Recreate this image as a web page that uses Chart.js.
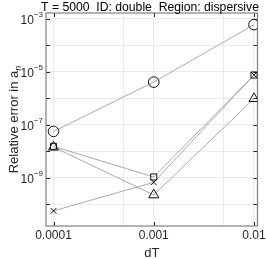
<!DOCTYPE html>
<html>
<head>
<meta charset="utf-8">
<script src="https://cdn.jsdelivr.net/npm/chart.js@4"></script>
<style>
  html, body { margin: 0; padding: 0; background: #fff; }
  #wrap { width: 266px; height: 259px; }
</style>
</head>
<body>
<div id="wrap"><canvas id="errChart"></canvas></div>
<script>
const dT = [1e-4, 1e-3, 1e-2];
const errCircle = [5.5e-8, 4.0e-6, 5.9e-4];
const errSquare = [1.5e-8, 1.05e-9, 7.4e-6];
const errCross = [5.5e-11, 6.6e-10, 7.4e-6];
const errTriangle = [1.4e-8, 2.2e-10, 9.5e-7];

const xTickLabels = ['0.0001', '0.001', '0.01'];
const xTickValues = [1e-4, 1e-3, 1e-2];
const xGridValues = [1e-4, 5e-4, 1e-3, 5e-3, 1e-2];
const yTickExps = [-3, -5, -7, -9];
const yGridExps = [-10, -9, -8, -7, -6, -5, -4, -3];

const titleText = 'T = 5000  ID: double  Region: dispersive';

function pts(ys) {
  return dT.map((x, i) => ({ x: x, y: ys[i] }));
}

function series(ys, style, r) {
  return {
    data: pts(ys),
    showLine: true,
    borderColor: '#a0a0a0',
    borderWidth: 0.9,
    pointStyle: style,
    pointRadius: r,
    pointBorderColor: '#111',
    pointBorderWidth: 1,
    pointBackgroundColor: 'rgba(0,0,0,0)',
    tension: 0
  };
}

// axis box, inward ticks, labels with superscripts
const decor = {
  id: 'decor',
  beforeDatasetsDraw(chart) {
    const { ctx, chartArea: a, scales } = chart;
    ctx.save();
    ctx.strokeStyle = '#262626';
    ctx.lineWidth = 1;
    // tick marks inward
    xTickValues.forEach(v => {
      const px = Math.round(scales.x.getPixelForValue(v)) + 0.5;
      ctx.beginPath();
      ctx.moveTo(px, a.bottom); ctx.lineTo(px, a.bottom - 4);
      ctx.moveTo(px, a.top); ctx.lineTo(px, a.top + 4);
      ctx.stroke();
    });
    yGridExps.forEach(e => {
      const py = Math.round(scales.y.getPixelForValue(Math.pow(10, e))) + 0.5;
      ctx.beginPath();
      ctx.moveTo(a.left, py); ctx.lineTo(a.left + 4, py);
      ctx.moveTo(a.right, py); ctx.lineTo(a.right - 4, py);
      ctx.stroke();
    });
    ctx.strokeStyle = '#808080';
    ctx.lineWidth = 1.2;
    ctx.strokeRect(a.left, a.top, a.right - a.left, a.bottom - a.top);
    ctx.restore();
  },
  afterDraw(chart) {
    const { ctx, chartArea: a, scales } = chart;
    ctx.save();
    ctx.fillStyle = '#262626';
    // x tick labels
    ctx.font = '12px "Liberation Sans", Arial, sans-serif';
    ctx.textAlign = 'center';
    ctx.textBaseline = 'middle';
    xTickValues.forEach((v, i) => {
      ctx.fillText(xTickLabels[i], scales.x.getPixelForValue(v), a.bottom + 10);
    });
    // x title
    ctx.font = '13px "Liberation Sans", Arial, sans-serif';
    ctx.fillText('dT', (a.left + a.right) / 2, a.bottom + 27);
    // y tick labels 10^e
    yTickExps.forEach(e => {
      const py = scales.y.getPixelForValue(Math.pow(10, e));
      const sup = '\u2212' + Math.abs(e);
      ctx.font = '8px "Liberation Sans", Arial, sans-serif';
      const sw = ctx.measureText(sup).width;
      ctx.textAlign = 'right';
      ctx.textBaseline = 'alphabetic';
      const right = a.left - 3;
      ctx.fillText(sup, right, py - 2);
      ctx.font = '12px "Liberation Sans", Arial, sans-serif';
      ctx.fillText('10', right - sw, py + 5);
    });
    // y title with subscript
    ctx.translate(13, (a.top + a.bottom) / 2);
    ctx.rotate(-Math.PI / 2);
    const main = 'Relative error in a';
    ctx.font = '13px "Liberation Sans", Arial, sans-serif';
    const mw = ctx.measureText(main).width;
    ctx.font = '9px "Liberation Sans", Arial, sans-serif';
    const nw = ctx.measureText('n').width;
    const start = -(mw + nw) / 2;
    ctx.textAlign = 'left';
    ctx.textBaseline = 'alphabetic';
    ctx.font = '13px "Liberation Sans", Arial, sans-serif';
    ctx.fillText(main, start, 5);
    ctx.font = 'italic 9px "Liberation Sans", Arial, sans-serif';
    ctx.fillText('n', start + mw, 8);
    ctx.restore();
    // title
    ctx.save();
    ctx.fillStyle = '#000';
    ctx.font = '12.2px "Liberation Sans", Arial, sans-serif';
    ctx.textAlign = 'center';
    ctx.textBaseline = 'alphabetic';
    ctx.fillText(titleText, 150, 11);
    ctx.restore();
  }
};

new Chart(document.getElementById('errChart'), {
  type: 'scatter',
  data: {
    datasets: [
      series(errCircle, 'circle', 5.3),
      series(errSquare, 'rect', 4.3),
      series(errCross, 'crossRot', 4),
      series(errTriangle, 'triangle', 5.8)
    ]
  },
  options: {
    responsive: true,
    maintainAspectRatio: false,
    animation: false,
    layout: { padding: { left: 46, top: 13, right: 8.5, bottom: 33 } },
    plugins: { legend: { display: false }, tooltip: { enabled: false } },
    scales: {
      x: {
        type: 'logarithmic',
        min: Math.pow(10, -4.075),
        max: Math.pow(10, -1.965),
        afterBuildTicks: s => { s.ticks = xGridValues.map(v => ({ value: v })); },
        afterFit: s => { s.height = 0; },
        ticks: { display: false },
        grid: { color: '#ebebeb', lineWidth: 1, drawTicks: false },
        border: { display: false }
      },
      y: {
        type: 'logarithmic',
        min: Math.pow(10, -10.83),
        max: Math.pow(10, -2.79),
        afterBuildTicks: s => { s.ticks = yGridExps.map(e => ({ value: Math.pow(10, e) })); },
        afterFit: s => { s.width = 0; },
        ticks: { display: false },
        grid: { color: '#ebebeb', lineWidth: 1, drawTicks: false },
        border: { display: false }
      }
    }
  },
  plugins: [decor]
});
</script>
</body>
</html>
